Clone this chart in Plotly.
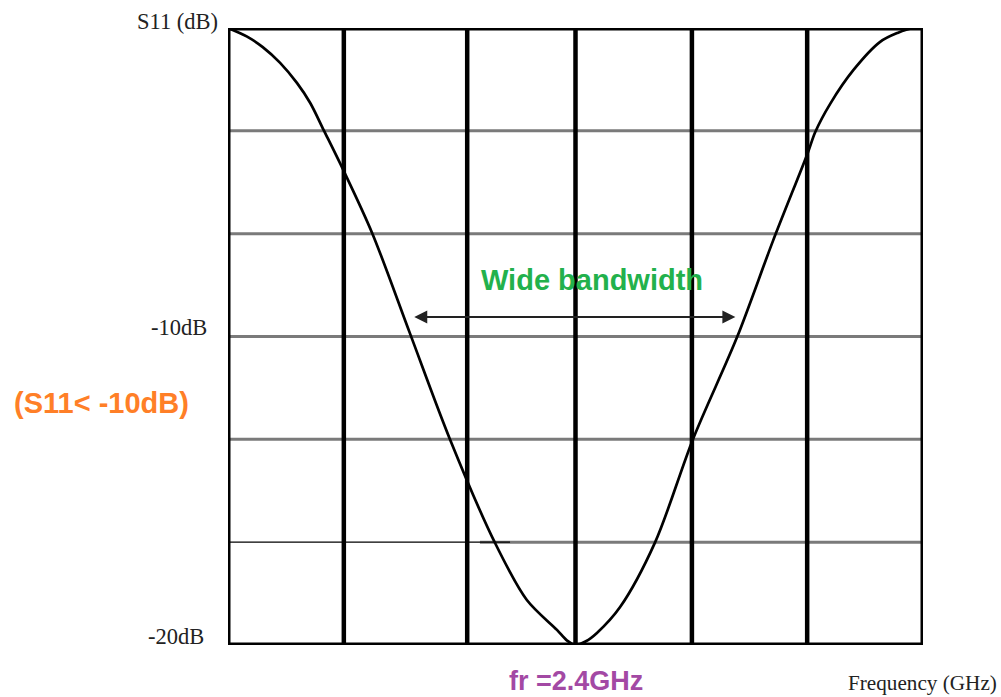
import plotly.graph_objects as go

# ---- data ----
freq_ghz = [1.800, 1.833, 1.860, 1.890, 1.919, 1.942, 1.965, 1.999, 2.049,
            2.114, 2.183, 2.261, 2.316, 2.368, 2.385, 2.400, 2.418, 2.437, 2.477,
            2.537, 2.603, 2.679, 2.741, 2.801, 2.814, 2.840, 2.880, 2.926,
            2.956, 2.983, 3.000]
s11_db = [0.0, -0.28, -0.62, -1.13, -1.78, -2.43, -3.30, -4.60, -6.65,
          -9.89, -13.32, -16.69, -18.54, -19.51, -19.85, -20.0, -19.88, -19.61, -18.77,
          -16.69, -13.32, -10.02, -6.90, -4.05, -3.37, -2.45, -1.36, -0.45,
          -0.16, 0.0, 0.0]

x_range = [1.8, 3.0]
y_range = [-20.0, 0.0]
v_grid = [2.0, 2.213, 2.4, 2.601, 2.8]
h_grid = [-10/3, -20/3, -10.0, -40/3]
h_grid_split = -50/3
band_edges = [2.119, 2.676]
band_level = -9.37

fig = go.Figure()
fig.add_trace(go.Scatter(x=freq_ghz, y=s11_db, mode="lines",
                         line=dict(color="black", width=2.7, shape="spline", smoothing=0.9),
                         hoverinfo="skip", showlegend=False))

shapes = []
for yv in h_grid:
    shapes.append(dict(type="line", xref="x", yref="y", x0=x_range[0], x1=x_range[1],
                       y0=yv, y1=yv, line=dict(color="#7a7a7a", width=3), layer="below"))
shapes.append(dict(type="line", xref="x", yref="y", x0=2.235, x1=x_range[1],
                   y0=h_grid_split, y1=h_grid_split, line=dict(color="#7a7a7a", width=3), layer="below"))
shapes.append(dict(type="line", xref="x", yref="y", x0=x_range[0], x1=2.287,
                   y0=h_grid_split, y1=h_grid_split, line=dict(color="black", width=1.2), layer="below"))
for xv in v_grid:
    shapes.append(dict(type="line", xref="x", yref="y", x0=xv, x1=xv,
                       y0=y_range[0], y1=y_range[1], line=dict(color="black", width=4.5), layer="below"))
shapes.append(dict(type="rect", xref="x", yref="y", x0=x_range[0], x1=x_range[1],
                   y0=y_range[0], y1=y_range[1], line=dict(color="black", width=5), layer="below"))

serif = "Liberation Serif, Times New Roman, serif"
sans = "Liberation Sans, Arial, sans-serif"
ann = [
    dict(text="S11 (dB)", xref="paper", yref="paper", x=-0.012, y=1.01, xanchor="right", yanchor="middle",
         showarrow=False, font=dict(family=serif, size=22.5, color="#222")),
    dict(text="-10dB", xref="paper", yref="paper", x=-0.027, y=0.514, xanchor="right", yanchor="middle",
         showarrow=False, font=dict(family=serif, size=22.5, color="#222")),
    dict(text="-20dB", xref="paper", yref="paper", x=-0.031, y=0.013, xanchor="right", yanchor="middle",
         showarrow=False, font=dict(family=serif, size=22.5, color="#222")),
    dict(text="Frequency (GHz)", xref="paper", yref="paper", x=0.889, y=-0.061, xanchor="left", yanchor="middle",
         showarrow=False, font=dict(family=serif, size=21.2, color="#222")),
    dict(text="<b>fr =2.4GHz</b>", xref="paper", yref="paper", x=0.401, y=-0.058, xanchor="left", yanchor="middle",
         showarrow=False, font=dict(family=sans, size=27, color="#A349A4")),
    dict(text="<b>(S11&lt; -10dB)</b>", xref="paper", yref="paper", x=-0.311, y=0.392, xanchor="left", yanchor="middle",
         showarrow=False, font=dict(family=sans, size=29, color="#FF7F27")),
    dict(text="<b>Wide bandwidth</b>", xref="paper", yref="paper", x=0.361, y=0.592, xanchor="left", yanchor="middle",
         showarrow=False, font=dict(family=sans, size=29, color="#22B14C")),
    dict(text="", x=band_edges[1], y=band_level, ax=band_edges[0], ay=band_level,
         xref="x", yref="y", axref="x", ayref="y", showarrow=True,
         arrowhead=2, arrowside="end+start", arrowsize=1.3, arrowwidth=2, arrowcolor="#222"),
]

fig.update_layout(
    width=1001, height=697,
    margin=dict(l=228, r=78, t=28, b=52, autoexpand=False),
    paper_bgcolor="white", plot_bgcolor="white",
    shapes=shapes, annotations=ann, showlegend=False,
    xaxis=dict(range=x_range, showgrid=False, zeroline=False, showticklabels=False, ticks="", showline=False, fixedrange=True),
    yaxis=dict(range=y_range, showgrid=False, zeroline=False, showticklabels=False, ticks="", showline=False, fixedrange=True),
)

fig.write_html("out.html", config={"displayModeBar": False},
               post_script="document.body.style.margin='0px';document.body.style.overflow='hidden';")
